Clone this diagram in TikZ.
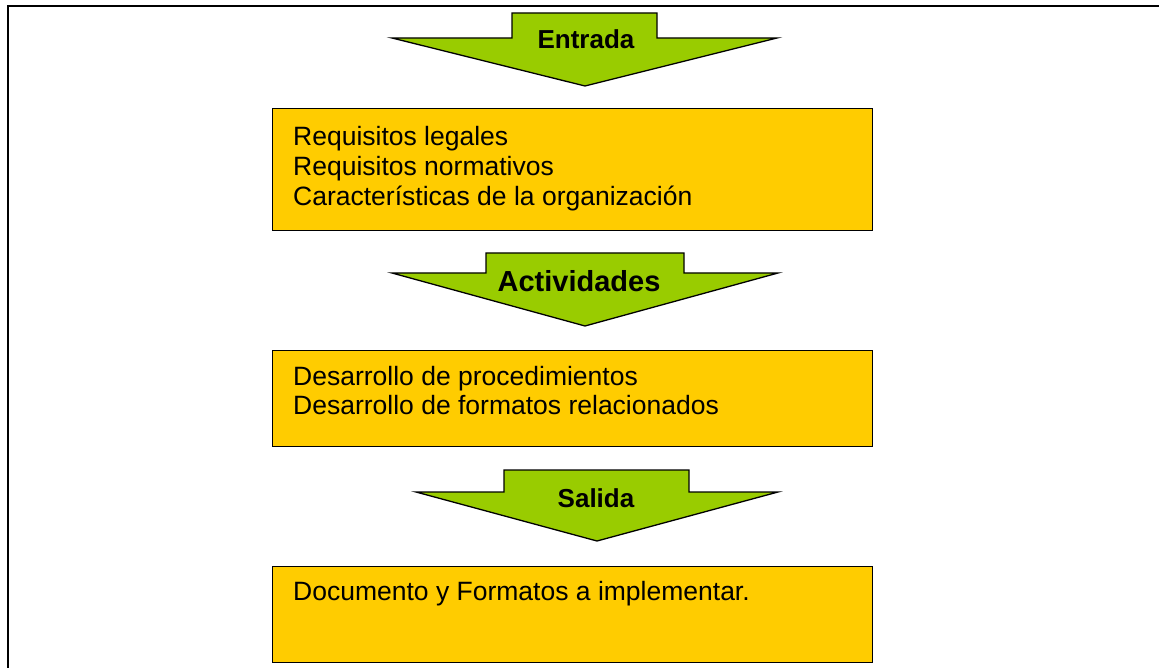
\documentclass[tikz,border=0pt]{standalone}
\usepackage{fontspec}
\setmainfont{Liberation Sans}
\definecolor{boxy}{HTML}{FFCC00}
\definecolor{arrowg}{HTML}{99CC00}
\begin{document}
\begin{tikzpicture}[x=1pt,y=-1pt,
  box/.style={draw=black, line width=1.3pt, fill=boxy, rectangle, inner sep=0pt, anchor=north west},
  arrowshape/.style={draw=black, line width=1.3pt, fill=arrowg, line join=miter},
  bodytxt/.style={font=\fontsize{26.5}{30.5}\selectfont, anchor=base west, inner sep=0pt},
  lbl/.style={font=\bfseries\fontsize{26}{30}\selectfont, anchor=base, inner sep=0pt}]
\useasboundingbox (0,0) rectangle (1159,668);
% frame
\draw[line width=2pt] (8,690) -- (8,6) -- (1180,6);
% Entrada arrow
\draw[arrowshape] (392,38) -- (512,38) -- (512,13) -- (657,13) -- (657,38) -- (777,38) -- (585,86) -- cycle;
\node[lbl] (entrada) at (586,49) {Entrada};
% box 1
\node[box, minimum width=600pt, minimum height=122pt] (b1) at (272,108) {};
\node[bodytxt] (t11) at (293,146) {Requisitos legales};
\node[bodytxt] (t12) at (293,176) {Requisitos normativos};
\node[bodytxt] (t13) at (293,206) {Características de la organización};
% Actividades arrow
\draw[arrowshape] (392,273) -- (486,273) -- (486,253) -- (684,253) -- (684,273) -- (778,273) -- (585,326) -- cycle;
\node[lbl, font=\bfseries\fontsize{29}{33}\selectfont] (activ) at (579,291) {Actividades};
% box 2
\node[box, minimum width=600pt, minimum height=96pt] (b2) at (272,350) {};
\node[bodytxt] (t21) at (293,385) {Desarrollo de procedimientos};
\node[bodytxt] (t22) at (293,414) {Desarrollo de formatos relacionados};
% Salida arrow
\draw[arrowshape] (416,492) -- (504,492) -- (504,470) -- (689,470) -- (689,492) -- (778,492) -- (597,541) -- cycle;
\node[lbl] (salida) at (596,507) {Salida};
% box 3
\node[box, minimum width=600pt, minimum height=96pt] (b3) at (272,566) {};
\node[bodytxt] (t31) at (293,600) {Documento y Formatos a implementar.};
\end{tikzpicture}
\end{document}
